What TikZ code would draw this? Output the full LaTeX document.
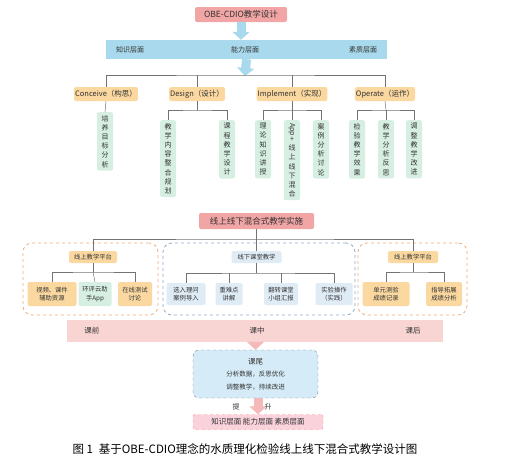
\documentclass[tikz,border=0pt]{standalone}
\usepackage{fontspec}
\setmainfont{Noto Sans CJK SC}
\usetikzlibrary{arrows.meta}
\definecolor{titlered}{HTML}{F2A5A5}
\definecolor{bandblue}{HTML}{A9D9EC}
\definecolor{phaseorange}{HTML}{FAD8A0}
\definecolor{leafgreen}{HTML}{D6EFE2}
\definecolor{leafblue}{HTML}{DFEBF5}
\definecolor{bandpink}{HTML}{F8D4D2}
\definecolor{arrowpink}{HTML}{F5B9B9}
\definecolor{tailblue}{HTML}{D5EBF7}
\definecolor{lastpink}{HTML}{F9D2DC}
\definecolor{dashorange}{HTML}{EEAE80}
\definecolor{dashblue}{HTML}{8FA8C8}
\definecolor{txt}{HTML}{333333}
\tikzset{
  box/.style={rectangle,rounded corners=2pt,inner sep=1pt,text=txt,font=\fontsize{7}{8.5}\selectfont},
  titlebox/.style={box,fill=titlered,font=\fontsize{8.5}{10}\selectfont},
  phase/.style={box,fill=phaseorange,minimum height=14pt,font=\fontsize{7.5}{9}\selectfont},
  vleaf/.style={box,fill=leafgreen,align=center,anchor=north,text width=9pt,inner xsep=3.5pt,inner ysep=3pt,font=\fontsize{7}{9.2}\selectfont},
  leaf/.style={box,align=center,minimum height=24pt,font=\fontsize{6.3}{8.5}\selectfont},
  group/.style={rectangle,rounded corners=9pt,dashed,line width=0.8pt},
  tree/.style={draw=black!55,line width=0.5pt},
  bigarrow/.style={line width=9pt,-{Triangle[width=17pt,length=8pt]}},
}
\begin{document}
\begin{tikzpicture}[x=1pt,y=-1pt]
\useasboundingbox (0,0) rectangle (507,458);
\node[titlebox,minimum width=92pt,minimum height=15pt] (obe) at (241,14.5) {OBE-CDIO教学设计};
\node[rectangle,fill=bandblue,minimum width=281pt,minimum height=19pt,inner sep=0pt] (band) at (246.5,49.5) {};
\node[box] (k1) at (130,49.5) {知识层面};
\node[box] (k2) at (245,49.5) {能力层面};
\node[box] (k3) at (363,49.5) {素质层面};
\coordinate (tj) at (245,75);
\draw[bigarrow,bandblue] (obe.south) -- (obe.south |- band.north);
\draw[bigarrow,bandblue] (band.south) -- ([yshift=-1pt]tj);

\node[phase] (con) at (106,94) {Conceive（构思）};
\node[phase] (des) at (197,94) {Design（设计）};
\node[phase] (imp) at (292,94) {Implement（实现）};
\node[phase] (ope) at (385,94) {Operate（运作）};
\draw[tree] (con.north) |- (tj) -| (ope.north);
\draw[tree] (des.north) -- (des.north |- tj);
\draw[tree] (imp.north) -- (imp.north |- tj);

\node[vleaf] (c1) at (105,112) {培\\养\\目\\标\\分\\析};
\draw[tree] (con.south) -- (c1.north);

\coordinate (dj) at (197,110);
\coordinate (ij) at (292,110);
\coordinate (oj) at (386,110);
\node[vleaf] (d1) at (168,120) {教\\学\\内\\容\\整\\合\\规\\划};
\node[vleaf] (d2) at (227,120) {课\\程\\教\\学\\设\\计};
\node[vleaf] (i1) at (263,120) {理\\论\\知\\识\\讲\\授};
\node[vleaf] (i2) at (292,120) {\rotatebox{-90}{App}\\+\\线\\上\\线\\下\\混\\合};
\node[vleaf] (i3) at (321,120) {案\\例\\分\\析\\讨\\论};
\node[vleaf] (o1) at (357,120) {检\\验\\教\\学\\效\\果};
\node[vleaf] (o2) at (386,120) {教\\学\\分\\析\\反\\思};
\node[vleaf] (o3) at (414,120) {调\\整\\教\\学\\改\\进};
\draw[tree] (des.south) -- (dj);
\draw[tree] (d1.north) |- (dj) -| (d2.north);
\draw[tree] (imp.south) -- (ij);
\draw[tree] (i1.north) |- (ij) -| (i3.north);
\draw[tree] (ij) -- (i2.north);
\draw[tree] (ope.south) -- (oj);
\draw[tree] (o1.north) |- (oj) -| (o3.north);
\draw[tree] (oj) -- (o2.north);

\node[titlebox,minimum width=115pt,minimum height=16pt] (mix) at (256.5,221) {线上线下混合式教学实施};
\node[group,draw=dashorange,minimum width=135pt,minimum height=72pt] (g1) at (90.5,279) {};
\node[group,draw=dashblue,minimum width=192pt,minimum height=72pt] (g2) at (259,279) {};
\node[group,draw=dashorange,minimum width=109pt,minimum height=72pt] (g3) at (412.5,279) {};
\coordinate (mj) at (256.5,239);
\node[box,fill=phaseorange,minimum width=48pt,minimum height=12pt,font=\fontsize{6.3}{7.5}\selectfont] (on1) at (93,257) {线上教学平台};
\node[box,fill=leafblue,minimum width=50pt,minimum height=12pt,font=\fontsize{6.3}{7.5}\selectfont] (off) at (256.5,257) {线下课堂教学};
\node[box,fill=phaseorange,minimum width=50pt,minimum height=12pt,font=\fontsize{6.3}{7.5}\selectfont] (on2) at (413,257) {线上教学平台};
\draw[tree] (mix.south) -- (mj);
\draw[tree] (on1.north) |- (mj) -| (on2.north);
\draw[tree] (mj) -- (off.north);

\coordinate (aj) at (93,272);
\node[leaf,fill=phaseorange,minimum width=49pt] (a1) at (52,294) {视频、课件\\辅助资源};
\node[leaf,fill=leafgreen,minimum width=33pt] (a2) at (95,294) {环评云助\\手App};
\node[leaf,fill=phaseorange,minimum width=34pt] (a3) at (135,294) {在线测试\\讨论};
\draw[tree] (on1.south) -- (aj);
\draw[tree] (a1.north) |- (aj) -| (a3.north);
\draw[tree] (aj) -- (a2.north);

\coordinate (bj) at (256.5,273);
\node[leaf,fill=leafblue,minimum width=39pt,minimum height=22pt] (b1) at (186,294) {选入理问\\案例导入};
\node[leaf,fill=leafblue,minimum width=27pt,minimum height=22pt] (b2) at (229,294) {重难点\\讲解};
\node[leaf,fill=leafblue,minimum width=34pt,minimum height=22pt] (b3) at (281,294) {翻转课堂\\小组汇报};
\node[leaf,fill=leafblue,minimum width=37pt,minimum height=22pt] (b4) at (334,294) {实验操作\\（实践）};
\draw[tree] (off.south) -- (bj);
\draw[tree] (b1.north) |- (bj) -| (b4.north);
\draw[tree] (b2.north) -- (b2.north |- bj);
\draw[tree] (b3.north) -- (b3.north |- bj);

\coordinate (ej) at (413,272);
\node[leaf,fill=phaseorange,minimum width=47pt] (e1) at (386,294) {单元测验\\成绩记录};
\node[leaf,fill=phaseorange,minimum width=36pt] (e2) at (444,294) {指导拓展\\成绩分析};
\draw[tree] (on2.south) -- (ej);
\draw[tree] (e1.north) |- (ej) -| (e2.north);

\node[rectangle,fill=bandpink,minimum width=376pt,minimum height=22pt,inner sep=0pt] (stage) at (255,331) {};
\node[box,font=\fontsize{7.5}{9}\selectfont] (s1) at (92,331) {课前};
\node[box,font=\fontsize{7.5}{9}\selectfont] (s2) at (257,331) {课中};
\node[box,font=\fontsize{7.5}{9}\selectfont] (s3) at (413,331) {课后};

\node[box,draw=dashblue!80!black,dashed,fill=tailblue,rounded corners=6pt,minimum width=125pt,minimum height=48pt,align=center,font=\fontsize{6.5}{12.5}\selectfont] (tail) at (255.5,374) {\fontsize{7.5}{12.5}\selectfont 课尾\\分析数据，反思优化\\调整教学，持续改进};
\draw[bigarrow,arrowpink] (stage.south -| tail.north) -- (tail.north);

\node[box,draw=red!45,dashed,fill=lastpink,minimum width=130pt,minimum height=15pt,font=\fontsize{7.5}{9}\selectfont] (last) at (258,422) {知识层面 能力层面 素质层面};
\draw[bigarrow,arrowpink] (tail.south -| last.north) -- (last.north);
\node[box] (up1) at (236,406.5) {提};
\node[box] (up2) at (268,406.5) {升};

\node[font=\fontsize{11.5}{13}\selectfont,text=black] (cap) at (245,449) {图 1\enspace 基于OBE-CDIO理念的水质理化检验线上线下混合式教学设计图};
\end{tikzpicture}
\end{document}
